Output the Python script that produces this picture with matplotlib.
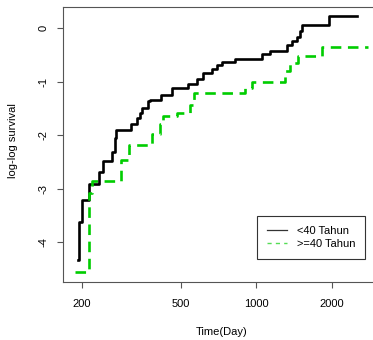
import matplotlib.pyplot as plt
from matplotlib.lines import Line2D

plt.rcParams['font.family'] = ['Liberation Sans', 'DejaVu Sans']
plt.rcParams['font.size'] = 8

# step points (time in days, log-log survival)
t_young = [193.8, 194.4, 201.1, 213.3, 235.2, 242.7, 263.7, 270.5, 275.1, 315.0,
           331.9, 340.6, 347.6, 368.4, 373.5, 415.3, 458.2, 533.9, 578.5, 611.4,
           662.3, 693.5, 726.2, 821.1, 1049.6, 1133.0, 1321.4, 1383.7, 1448.9,
           1493.5, 1514.3, 1956.3, 2517.8]
y_young = [-4.34, -3.63, -3.22, -2.92, -2.68, -2.49, -2.31, -2.05, -1.90, -1.79,
           -1.68, -1.59, -1.50, -1.37, -1.34, -1.25, -1.12, -1.04, -0.95, -0.84,
           -0.76, -0.69, -0.64, -0.57, -0.48, -0.43, -0.31, -0.25, -0.16,
           -0.06, 0.05, 0.22, 0.22]

t_old = [188.1, 214.5, 219.9, 287.3, 307.9, 381.1, 409.6, 421.0, 481.1, 542.3,
         562.7, 900.1, 957.3, 1300.9, 1362.1, 1466.3, 1835.0, 2800.0]
y_old = [-4.56, -3.08, -2.85, -2.46, -2.19, -1.97, -1.80, -1.65, -1.58, -1.43,
         -1.21, -1.11, -1.01, -0.81, -0.65, -0.52, -0.36, -0.36]

labels = ['<40 Tahun', '>=40 Tahun']
green = '#00CD00'

fig = plt.figure(figsize=(3.73, 3.40), dpi=100)
ax = fig.add_axes([63.3 / 373, 57.7 / 340, 316.7 / 373, 275.6 / 340])

ax.step(t_young, y_young, where='post', color='black', lw=1.9)
ax.step(t_old, y_old, where='post', color=green, lw=1.9, linestyle=(0, (4, 2.5)))

ax.set_xscale('log')
ax.set_xlim(168.8, 3119)
ax.set_ylim(-4.75, 0.40)
ax.set_xticks([200, 500, 1000, 2000])
ax.set_xticklabels(['200', '500', '1000', '2000'])
ax.minorticks_off()
ax.set_yticks([-4, -3, -2, -1, 0])
ax.set_yticklabels(['-4', '-3', '-2', '-1', '0'], rotation=90, va='center')
ax.tick_params(direction='out', length=4.3, width=0.8, color='#555555')
ax.tick_params(axis='x', pad=7.5)
ax.tick_params(axis='y', pad=6.5)
for s in ax.spines.values():
    s.set_color('#555555')
    s.set_linewidth(0.8)

fig.text(221.7 / 373, 1 - 332 / 340, 'Time(Day)', ha='center', va='center')
fig.text(13 / 373, 1 - 141 / 340, 'log-log survival', ha='center', va='center',
         rotation=90)

handles = [Line2D([], [], color='#333333', lw=0.9),
           Line2D([], [], color='#55dd55', lw=1.0, linestyle=(0, (3, 3)))]
leg = ax.legend(handles, labels, loc='upper left',
                bbox_to_anchor=(256.7 / 373, 1 - 216 / 340),
                bbox_transform=fig.transFigure, borderaxespad=0,
                fancybox=False, framealpha=1, edgecolor='#333333',
                handlelength=1.8, handletextpad=0.9, borderpad=0.9,
                labelspacing=0.3)
leg.get_frame().set_linewidth(0.8)

fig.savefig('out.png', dpi=100)
